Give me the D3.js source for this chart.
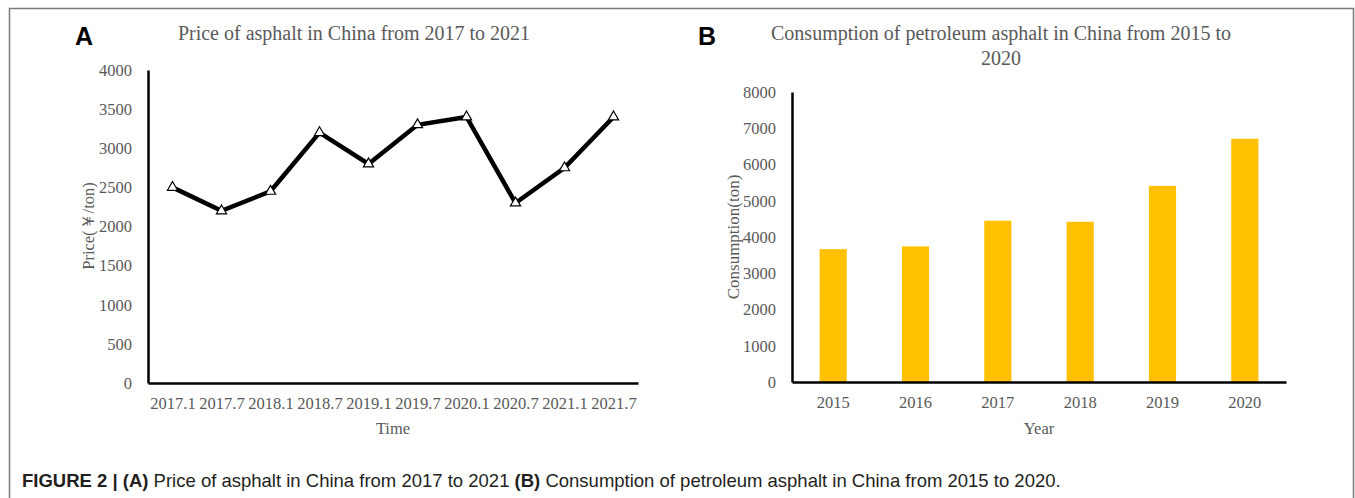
<!DOCTYPE html>
<html>
<head>
<meta charset="utf-8">
<script src="https://cdn.jsdelivr.net/npm/d3@7"></script>
<style>
  body { margin: 0; background: #fff; }
  svg { display: block; }
</style>
</head>
<body>
<div id="chart"></div>
<script>
// price data (panel A)
var priceTimes = ["2017.1", "2017.7", "2018.1", "2018.7", "2019.1", "2019.7", "2020.1", "2020.7", "2021.1", "2021.7"];
var priceValues = [2500, 2200, 2450, 3200, 2800, 3300, 3400, 2300, 2750, 3400];
var priceTicks = [0, 500, 1000, 1500, 2000, 2500, 3000, 3500, 4000];

// consumption data (panel B)
var years = ["2015", "2016", "2017", "2018", "2019", "2020"];
var consumption = [3665, 3740, 4450, 4420, 5410, 6710];
var consumptionTicks = [0, 1000, 2000, 3000, 4000, 5000, 6000, 7000, 8000];

var svgWidth = 1355;
var svgHeight = 498;
var serif = "'Liberation Serif', 'Times New Roman', serif";
var sans = "'Liberation Sans', Arial, sans-serif";
var grey = "#595959";

var svg = d3.select("#chart")
  .append("svg")
  .attr("width", svgWidth)
  .attr("height", svgHeight);

// figure frame (open at the bottom)
svg.append("path")
  .attr("d", "M9.5,498 L9.5,8.5 L1353.5,8.5 L1353.5,498")
  .attr("fill", "none")
  .attr("stroke", "#7a7a7a")
  .attr("stroke-width", 1.5);

// ---------- Panel A: line chart ----------
var a = { left: 148, right: 638, top: 70, bottom: 383 };

var xA = d3.scalePoint()
  .domain(priceTimes)
  .range([a.left, a.right])
  .padding(0.5);

var yA = d3.scaleLinear()
  .domain([0, 4000])
  .range([a.bottom, a.top]);

var axisA = svg.append("g");

axisA.append("g")
  .attr("transform", `translate(${a.left},0)`)
  .call(d3.axisLeft(yA).tickValues(priceTicks).tickFormat(d3.format("d")).tickSize(0).tickPadding(16));

axisA.append("g")
  .attr("transform", `translate(0,${a.bottom})`)
  .call(d3.axisBottom(xA).tickSize(0).tickPadding(14));

axisA.selectAll(".domain")
  .attr("stroke", "#000")
  .attr("stroke-width", 2.5);

axisA.selectAll("text")
  .attr("fill", grey)
  .style("font-family", serif)
  .style("font-size", "16.5px");

var line = d3.line()
  .x((d, i) => xA(priceTimes[i]))
  .y(d => yA(d));

svg.append("path")
  .datum(priceValues)
  .attr("d", line)
  .attr("fill", "none")
  .attr("stroke", "#000")
  .attr("stroke-width", 4.5)
  .attr("stroke-linejoin", "miter");

var tri = d3.symbol().type(d3.symbolTriangle).size(45);
svg.selectAll(".marker")
  .data(priceValues)
  .enter()
  .append("path")
  .attr("class", "marker")
  .attr("d", tri)
  .attr("transform", (d, i) => `translate(${xA(priceTimes[i])},${yA(d)})`)
  .attr("fill", "#fff")
  .attr("stroke", "#000")
  .attr("stroke-width", 1.2);

svg.append("text")
  .attr("x", 354)
  .attr("y", 40)
  .attr("text-anchor", "middle")
  .attr("fill", grey)
  .style("font-family", serif)
  .style("font-size", "20px")
  .text("Price of asphalt in China from 2017 to 2021");

svg.append("text")
  .attr("x", 393)
  .attr("y", 434)
  .attr("text-anchor", "middle")
  .attr("fill", grey)
  .style("font-family", serif)
  .style("font-size", "16.5px")
  .text("Time");

svg.append("text")
  .attr("transform", "translate(94,226) rotate(-90)")
  .attr("text-anchor", "middle")
  .attr("fill", grey)
  .style("font-family", serif)
  .style("font-size", "16.5px")
  .text("Price(\uFFE5/ton)");

svg.append("text")
  .attr("x", 75)
  .attr("y", 45)
  .style("font-family", sans)
  .style("font-weight", "bold")
  .style("font-size", "25px")
  .text("A");

// ---------- Panel B: bar chart ----------
var b = { left: 792, right: 1286, top: 92, bottom: 382 };

var xB = d3.scaleBand()
  .domain(years)
  .range([b.left, b.right])
  .paddingInner(0.67)
  .paddingOuter(0.335);

var yB = d3.scaleLinear()
  .domain([0, 8000])
  .range([b.bottom, b.top]);

svg.selectAll(".bar")
  .data(consumption)
  .enter()
  .append("rect")
  .attr("class", "bar")
  .attr("x", (d, i) => xB(years[i]))
  .attr("y", d => yB(d))
  .attr("width", xB.bandwidth())
  .attr("height", d => b.bottom - yB(d))
  .attr("fill", "#FFC000");

var axisB = svg.append("g");

axisB.append("g")
  .attr("transform", `translate(${b.left},0)`)
  .call(d3.axisLeft(yB).tickValues(consumptionTicks).tickFormat(d3.format("d")).tickSize(0).tickPadding(16));

axisB.append("g")
  .attr("transform", `translate(0,${b.bottom})`)
  .call(d3.axisBottom(xB).tickSize(0).tickPadding(14));

axisB.selectAll(".domain")
  .attr("stroke", "#000")
  .attr("stroke-width", 2.5);

axisB.selectAll("text")
  .attr("fill", grey)
  .style("font-family", serif)
  .style("font-size", "16.5px");

svg.append("text")
  .attr("x", 1001)
  .attr("y", 40)
  .attr("text-anchor", "middle")
  .attr("fill", grey)
  .style("font-family", serif)
  .style("font-size", "20px")
  .text("Consumption of petroleum asphalt in China from 2015 to");

svg.append("text")
  .attr("x", 1001)
  .attr("y", 65)
  .attr("text-anchor", "middle")
  .attr("fill", grey)
  .style("font-family", serif)
  .style("font-size", "20px")
  .text("2020");

svg.append("text")
  .attr("x", 1039)
  .attr("y", 434)
  .attr("text-anchor", "middle")
  .attr("fill", grey)
  .style("font-family", serif)
  .style("font-size", "16.5px")
  .text("Year");

svg.append("text")
  .attr("transform", "translate(739,237) rotate(-90)")
  .attr("text-anchor", "middle")
  .attr("fill", grey)
  .style("font-family", serif)
  .style("font-size", "17px")
  .text("Consumption(ton)");

svg.append("text")
  .attr("x", 698)
  .attr("y", 45)
  .style("font-family", sans)
  .style("font-weight", "bold")
  .style("font-size", "25px")
  .text("B");

// ---------- caption ----------
var caption = svg.append("text")
  .attr("x", 22)
  .attr("y", 487)
  .attr("fill", "#231f20")
  .style("font-family", sans)
  .style("font-size", "18.5px");

caption.append("tspan").style("font-weight", "bold").text("FIGURE 2 | (A)");
caption.append("tspan").text(" Price of asphalt in China from 2017 to 2021 ");
caption.append("tspan").style("font-weight", "bold").text("(B)");
caption.append("tspan").text(" Consumption of petroleum asphalt in China from 2015 to 2020.");
</script>
</body>
</html>
